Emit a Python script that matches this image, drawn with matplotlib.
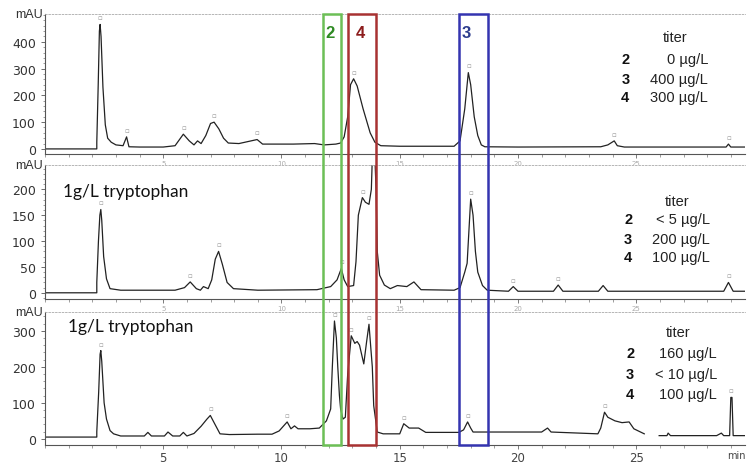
import numpy as np
import matplotlib
matplotlib.use("Agg")
import matplotlib.pyplot as plt
from matplotlib.patches import Rectangle
from matplotlib.transforms import blended_transform_factory
from matplotlib.ticker import MultipleLocator, FixedLocator

# ---- traces (time in min, absorbance in mAU) ----
t1 = [0.0, 2.19, 2.19, 2.25, 2.30, 2.33, 2.37, 2.45, 2.55, 2.65, 2.8, 3.0, 3.3, 3.45, 3.55, 4.0, 5.0, 5.5,
      5.85, 6.1, 6.3, 6.45, 6.6, 6.8, 7.0, 7.15, 7.35, 7.55, 7.75, 8.2, 8.97, 9.2, 10.5, 11.4, 11.8, 12.3,
      12.5, 12.65, 12.8, 12.92, 13.05, 13.2, 13.45, 13.75, 13.95, 14.2, 15.0, 16.5, 17.3, 17.55, 17.75,
      17.9, 18.0, 18.15, 18.3, 18.45, 18.6, 20.0, 23.5, 23.8, 24.07, 24.2, 24.5, 28.8, 28.9, 29.0, 29.6]
a1 = [0, 0, 25, 240, 440, 465, 420, 230, 90, 40, 25, 15, 12, 45, 8, 7, 7, 12,
      55, 30, 15, 30, 20, 50, 95, 100, 75, 40, 22, 20, 35, 18, 18, 20, 15, 18,
      22, 45, 120, 240, 262, 235, 150, 60, 25, 12, 10, 10, 10, 30, 150,
      285, 240, 120, 50, 15, 8, 7, 8, 15, 30, 12, 7, 7, 18, 7, 7]

t2 = [0.0, 2.19, 2.19, 2.26, 2.32, 2.36, 2.40, 2.48, 2.6, 2.75, 3.2, 5.5, 5.9, 6.14, 6.4, 6.57, 6.7, 6.9,
      7.05, 7.2, 7.34, 7.5, 7.7, 7.97, 9.0, 11.5, 12.08, 12.35, 12.53, 12.65, 12.8, 13.05, 13.15, 13.25,
      13.42, 13.55, 13.7, 13.8, 13.84, 13.95, 14.0, 14.05, 14.15, 14.35, 14.6, 14.9, 15.3, 15.6, 15.9,
      17.3, 17.55, 17.75, 17.85, 17.95, 18.0, 18.1, 18.2, 18.3, 18.5, 18.7, 19.6, 19.8, 20.0, 21.5, 21.7,
      21.9, 23.4, 23.6, 23.8, 28.7, 28.9, 29.1, 29.6]
a2 = [0, 0, 20, 100, 150, 161, 140, 70, 27, 8, 5, 5, 10, 21, 8, 5, 12, 8,
      25, 65, 80, 55, 20, 8, 5, 6, 12, 25, 47, 25, 12, 14, 60, 150,
      184, 175, 171, 200, 260, 260, 200, 80, 34, 15, 8, 14, 12, 21, 6,
      5, 10, 40, 57, 140, 181, 150, 80, 40, 14, 5, 3, 12, 3, 3, 15,
      3, 3, 14, 3, 3, 20, 3, 3]

t3 = [0.0, 2.19, 2.19, 2.27, 2.33, 2.36, 2.40, 2.5, 2.6, 2.75, 2.9, 3.2, 4.2, 4.35, 4.5, 5.05, 5.2, 5.4,
      5.7, 5.85, 6.0, 6.3, 6.6, 6.85, 6.99, 7.15, 7.4, 7.8, 9.0, 9.6, 9.9, 10.24, 10.4, 10.55, 10.7, 11.2,
      11.6, 11.9, 12.08, 12.15, 12.24, 12.32, 12.38, 12.45, 12.5, 12.6, 12.7, 12.8, 12.95, 13.1, 13.2,
      13.3, 13.48, 13.6, 13.7, 13.78, 13.84, 13.9, 14.05, 14.3, 15.0, 15.17, 15.4, 15.8, 16.1, 17.5,
      17.7, 17.87, 18.0, 18.1, 19.0, 21.0, 21.25, 21.4, 23.38, 23.5, 23.66, 23.8, 24.1, 24.4, 24.7, 24.9,
      25.34, np.nan, 25.97, 26.3, 26.35, 26.45, 28.4, 28.6, 28.7, 28.95, 29.0, 29.05, 29.1, 29.6]
a3 = [5, 5, 20, 130, 235, 245, 215, 100, 55, 23, 14, 8, 8, 18, 8, 8, 19, 8,
      8, 18, 8, 15, 35, 55, 65, 45, 14, 12, 13, 13, 22, 47, 28, 36, 28, 28,
      30, 50, 83, 200, 327, 280, 200, 120, 83, 55, 60, 180, 286, 265, 270,
      260, 208, 270, 318, 250, 200, 92, 19, 14, 14, 42, 30, 30, 18, 18,
      25, 47, 30, 19, 19, 19, 30, 19, 14, 30, 74, 60, 50, 45, 47, 28,
      14, np.nan, 9, 9, 16, 9, 9, 16, 9, 9, 115, 115, 9, 9]

# small peak-label positions (min)
peaks1 = [2.33, 3.45, 5.85, 7.15, 8.97, 13.05, 17.9, 24.07, 28.9]
peaks2 = [2.36, 6.14, 7.34, 12.53, 13.42, 18.0, 19.8, 21.7, 28.9]
peaks3 = [2.36, 6.99, 10.24, 12.24, 12.95, 13.7, 15.17, 17.87, 23.66, 29.0]

sample_text = [None, "1g/L tryptophan", "1g/L tryptophan"]
titer_ids = ["2", "3", "4"]
titers = [["0 µg/L", "400 µg/L", "300 µg/L"],
          ["< 5 µg/L", "200 µg/L", "100 µg/L"],
          ["160 µg/L", "< 10 µg/L", "100 µg/L"]]

# boxes marking compounds (min)
box_ids = ["2", "4", "3"]
box_lo = [11.74, 12.8, 17.5]
box_hi = [12.5, 13.98, 18.73]
box_lbl_x = [12.05, 13.35, 17.8]
box_edge = ["#6cbf56", "#a83232", "#3434b0"]
box_text = ["#2e8a23", "#8c1c1c", "#2c3c8c"]

W, H = 747, 464
fig = plt.figure(figsize=(W / 100, H / 100), dpi=100)

panels = [  # (top px, bottom px)
    (15, 155), (166, 300), (313, 446)]
ylims = [(-19, 504), (-12, 247), (-17, 352)]
ymaj = [100, 50, 100]
ymin = [20, 10, 20]
traces = [(t1, a1, peaks1), (t2, a2, peaks2), (t3, a3, peaks3)]
# titer table placements: (titer y, row ys, num x, val x, titer x)
tpos = [(0.836, [0.679, 0.536, 0.407], 0.829, 0.947, 0.90),
        (0.731, [0.597, 0.448, 0.313], 0.833, 0.950, 0.903),
        (0.850, [0.692, 0.534, 0.383], 0.836, 0.960, 0.904)]
spos = [None, (0.026, 0.806), (0.033, 0.895)]

axes = []
for i, (top, bot) in enumerate(panels):
    ax = fig.add_axes([45 / W, (H - bot) / H, 700 / W, (bot - top) / H])
    axes.append(ax)
    t, a, pk = traces[i]
    ax.plot(t, a, color="#222222", lw=0.9)
    ax.set_xlim(0, 29.6)
    ax.set_ylim(*ylims[i])
    ax.yaxis.set_major_locator(MultipleLocator(ymaj[i]))
    ax.yaxis.set_minor_locator(MultipleLocator(ymin[i]))
    ax.xaxis.set_major_locator(FixedLocator([5, 10, 15, 20, 25]))
    ax.xaxis.set_minor_locator(MultipleLocator(1))
    ax.set_yticks([v for v in ax.get_yticks() if 0 <= v <= ylims[i][1] * 0.9])
    ax.spines["right"].set_visible(False)
    ax.spines["top"].set_linestyle((0, (2, 2)))
    ax.spines["top"].set_color("#aaaaaa")
    ax.spines["top"].set_linewidth(0.6)
    for s in ("left", "bottom"):
        ax.spines[s].set_color("#555555")
        ax.spines[s].set_linewidth(0.8)
    ax.tick_params(axis="y", labelsize=9, colors="#555555", labelcolor="#333333", length=3, width=0.6)
    ax.tick_params(axis="y", which="minor", length=1.5, width=0.5, colors="#777777")
    ax.tick_params(axis="x", length=3, width=0.6, colors="#666666")
    ax.tick_params(axis="x", which="minor", length=2, width=0.5, colors="#777777")
    if i < 2:
        ax.tick_params(axis="x", labelsize=5, labelcolor="#aaaaaa", pad=1)
    else:
        ax.tick_params(axis="x", labelsize=8.5, labelcolor="#444444", pad=1.5)
    ax.text(-0.003, 1.0, "mAU", transform=ax.transAxes, ha="right", va="center",
            fontsize=9, color="#333333", family="Liberation Sans")
    # peak labels
    tt = np.array(t, dtype=float)
    aa = np.array(a, dtype=float)
    ok = ~np.isnan(tt)
    for p in pk:
        yv = np.interp(p, tt[ok], aa[ok])
        ax.text(p, yv + (ylims[i][1] - ylims[i][0]) * 0.03, "▫", fontsize=5, color="#999999",
                ha="center", va="bottom", family="DejaVu Sans")
    # titer table
    ty, rows, nx, vx, tx = tpos[i]
    ax.text(tx, ty, "titer", transform=ax.transAxes, ha="center", va="center",
            fontsize=10.5, family="Liberation Sans", color="#222222")
    for k in range(3):
        ax.text(nx, rows[k], titer_ids[k], transform=ax.transAxes, ha="center", va="center",
                fontsize=10.5, fontweight="bold", family="Liberation Sans", color="#111111")
        ax.text(vx, rows[k], titers[i][k], transform=ax.transAxes, ha="right", va="center",
                fontsize=10.5, family="Liberation Sans", color="#222222")
    if sample_text[i]:
        ax.text(spos[i][0], spos[i][1], sample_text[i], transform=ax.transAxes, ha="left",
                va="center", fontsize=12.5, family="Lato", color="#111111")

fig.text(0.998, (H - 456) / H, "min", ha="right", va="center", fontsize=7, color="#444444")

# compound boxes spanning all panels
bt = blended_transform_factory(axes[2].transData, fig.transFigure)
ytop, ybot = (H - 15) / H, (H - 446) / H
for k in range(3):
    r = Rectangle((box_lo[k], ybot), box_hi[k] - box_lo[k], ytop - ybot, transform=bt,
                  fill=False, edgecolor=box_edge[k], lw=1.8, clip_on=False)
    fig.add_artist(r)
    fig.text(box_lbl_x[k], (H - 33) / H, box_ids[k], transform=bt, ha="center", va="center",
             fontsize=12, fontweight="bold", color=box_text[k], family="Liberation Sans")

fig.savefig("out.png", dpi=100)
